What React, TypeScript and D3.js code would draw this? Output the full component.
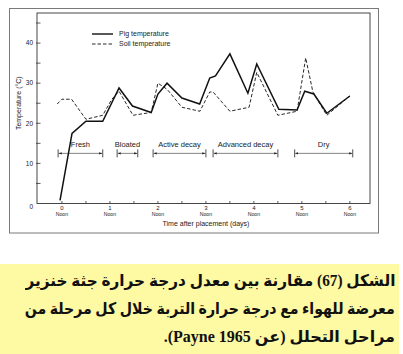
import React, { useLayoutEffect, useRef, useState } from "react";
import * as d3 from "d3";

// ---- data ----
const pigDays = [-0.04, 0.21, 0.5, 0.85, 1.19, 1.47, 1.86, 2.0, 2.19, 2.5, 2.87, 3.08, 3.2, 3.5, 3.875, 4.06, 4.52, 4.9, 5.06, 5.25, 5.52, 6.0];
const pigTemps = [0.8, 17.5, 20.5, 20.5, 28.8, 24.3, 22.7, 27.3, 30, 26.3, 24.8, 31.3, 31.8, 37.3, 27.5, 34.8, 23.5, 23.3, 28, 27.3, 22.5, 26.8];
const soilDays = [-0.1, 0, 0.2, 0.5, 0.85, 1.04, 1.19, 1.48, 1.86, 2.0, 2.19, 2.5, 2.875, 3.08, 3.15, 3.5, 3.9, 4.06, 4.5, 4.9, 5.08, 5.23, 5.52, 6.0];
const soilTemps = [24.8, 26, 26, 21, 22, 26, 28, 22, 22.7, 30, 28.5, 24, 23, 27.8, 27.8, 23, 24, 32.7, 22, 23, 36.3, 27.8, 22, 26.8];

const phaseNames = ["Fresh", "Bloated", "Active decay", "Advanced decay", "Dry"];
const phaseStarts = [-0.08, 1.15, 1.9, 3.15, 4.85];
const phaseEnds = [0.85, 1.58, 3.0, 4.5, 6.06];
const phaseLevel = 12.5;

const xTickLabels = ["0", "1", "2", "3", "4", "5", "6"];
const xTickValues = [0, 1, 2, 3, 4, 5, 6];
const xMinorTicks = [0, 0.5, 1, 1.5, 2, 2.5, 3, 3.5, 4, 4.5, 5, 5.5, 6];
const yTickValues = [0, 10, 20, 30, 40];
const yMinorTicks = [5, 10, 15, 20, 25, 30, 35, 40, 45];

const legendLabels = ["Pig temperature", "Soil temperature"];

const captionLines = [
  "الشكل (67) مقارنة بين معدل درجة حرارة جثة خنزير",
  "معرضة للهواء مع درجة حرارة التربة خلال كل مرحلة من",
  "مراحل التحلل (عن Payne 1965).",
];

const W = 403;
const H = 354;
const CAP_W = 370;

function CaptionLine({ text, justify }: { text: string; justify: boolean }) {
  const ref = useRef<HTMLSpanElement>(null);
  const [style, setStyle] = useState<React.CSSProperties>({});
  useLayoutEffect(() => {
    const el = ref.current;
    if (!el) return;
    const w = el.getBoundingClientRect().width;
    if (w > CAP_W) {
      setStyle({ transform: `scaleX(${CAP_W / w})`, transformOrigin: "right center" });
    } else if (justify) {
      const spaces = (text.match(/ /g) || []).length;
      if (spaces > 0) setStyle({ wordSpacing: `${(CAP_W - w) / spaces}px` });
    }
  }, [text, justify]);
  return (
    <div style={{ textAlign: "right", height: 28 }}>
      <span ref={ref} style={{ display: "inline-block", whiteSpace: "nowrap", ...style }}>
        {text}
      </span>
    </div>
  );
}

export default function App() {
  const x = d3.scaleLinear().domain([-0.52, 6.42]).range([37, 370]);
  const y = d3.scaleLinear().domain([0, 47.5]).range([203.5, 13]);
  const line = d3
    .line<[number, number]>()
    .x((d) => x(d[0]))
    .y((d) => y(d[1]));
  const pig = pigDays.map((d, i) => [d, pigTemps[i]] as [number, number]);
  const soil = soilDays.map((d, i) => [d, soilTemps[i]] as [number, number]);
  const font = "'Liberation Sans', Arial, sans-serif";
  const y0 = y(0);
  const ay = y(phaseLevel);

  return (
    <svg
      width={W}
      height={H}
      style={{ position: "fixed", left: 0, top: 0, background: "#fff" }}
    >
      <defs>
        <marker id="ah" viewBox="0 0 6 6" refX="6" refY="3" markerWidth="5" markerHeight="5" orient="auto-start-reverse">
          <path d="M0,0.6 L6,3 L0,5.4 Z" fill="#222" />
        </marker>
      </defs>
      {/* outer frame */}
      <rect x={9.5} y={8.5} width={369} height={224.5} fill="none" stroke="#7a7a7a" strokeWidth={1} />
      {/* plot box */}
      <rect x={37} y={13} width={333} height={y0 - 13} fill="none" stroke="#333" strokeWidth={0.9} />

      {/* y ticks */}
      {yMinorTicks.map((t) => (
        <line key={"yt" + t} x1={36} x2={40.5} y1={y(t)} y2={y(t)} stroke="#333" strokeWidth={0.8} />
      ))}
      {yTickValues.map((t) => (
        <text key={"yl" + t} x={33} y={y(t) + (t === 0 ? 5.5 : 2.3)} fontSize={6.5} fontFamily={font} textAnchor="end" fill="#222">
          {t}
        </text>
      ))}
      <text
        transform={`translate(21,${y(25)}) rotate(-90)`}
        fontSize={7}
        fontFamily={font}
        textAnchor="middle"
        fill="#222"
      >
        Temperature (°C)
      </text>

      {/* x ticks */}
      {xMinorTicks.map((t) => (
        <line key={"xt" + t} x1={x(t)} x2={x(t)} y1={y0} y2={y0 - 2.5} stroke="#333" strokeWidth={0.8} />
      ))}
      {xTickValues.map((t, i) => (
        <g key={"xl" + t}>
          <text x={x(t)} y={y0 + 6.5} fontSize={6} fontFamily={font} textAnchor="middle" fill="#222">
            {xTickLabels[i]}
          </text>
          <text x={x(t)} y={y0 + 12} fontSize={5.2} fontFamily={font} textAnchor="middle" fill="#222">
            Noon
          </text>
        </g>
      ))}
      <text x={206} y={226} fontSize={7} fontFamily={font} textAnchor="middle" fill="#222">
        Time after placement (days)
      </text>

      {/* legend */}
      <line x1={92} x2={113} y1={34} y2={34} stroke="#111" strokeWidth={1.4} />
      <text x={119} y={36.3} fontSize={7} fontFamily={font} fill="#222">
        {legendLabels[0]}
      </text>
      <line x1={92} x2={113} y1={44} y2={44} stroke="#111" strokeWidth={0.9} strokeDasharray="3.5,2" />
      <text x={119} y={46.3} fontSize={7} fontFamily={font} fill="#222">
        {legendLabels[1]}
      </text>

      {/* phases */}
      {phaseNames.map((p, i) => {
        const a = x(phaseStarts[i]);
        const b = x(phaseEnds[i]);
        return (
          <g key={p}>
            <line x1={a} x2={a} y1={ay - 4} y2={ay + 4} stroke="#222" strokeWidth={0.8} />
            <line x1={b} x2={b} y1={ay - 4} y2={ay + 4} stroke="#222" strokeWidth={0.8} />
            <line
              x1={a + 0.6}
              x2={b - 0.6}
              y1={ay}
              y2={ay}
              stroke="#333"
              strokeWidth={0.6}
              markerStart="url(#ah)"
              markerEnd="url(#ah)"
            />
            <text x={(a + b) / 2} y={y(14.2)} fontSize={7.5} fontFamily={font} textAnchor="middle" fill="#222">
              {p}
            </text>
          </g>
        );
      })}

      {/* series */}
      <path d={line(soil) || ""} fill="none" stroke="#111" strokeWidth={0.9} strokeDasharray="3.5,2" />
      <path d={line(pig) || ""} fill="none" stroke="#111" strokeWidth={1.5} strokeLinejoin="miter" />

      {/* caption */}
      <rect x={0} y={264} width={399} height={90} fill="#fef9a3" />
      <foreignObject x={25} y={267} width={CAP_W} height={87}>
        <div
          dir="rtl"
          style={{
            fontFamily: "'Liberation Serif', 'DejaVu Sans', serif",
            fontWeight: "bold",
            fontSize: "16px",
            lineHeight: "28px",
            color: "#111",
            width: CAP_W,
          }}
        >
          {captionLines.map((l, i) => (
            <CaptionLine key={i} text={l} justify={i < 2} />
          ))}
        </div>
      </foreignObject>
    </svg>
  );
}
